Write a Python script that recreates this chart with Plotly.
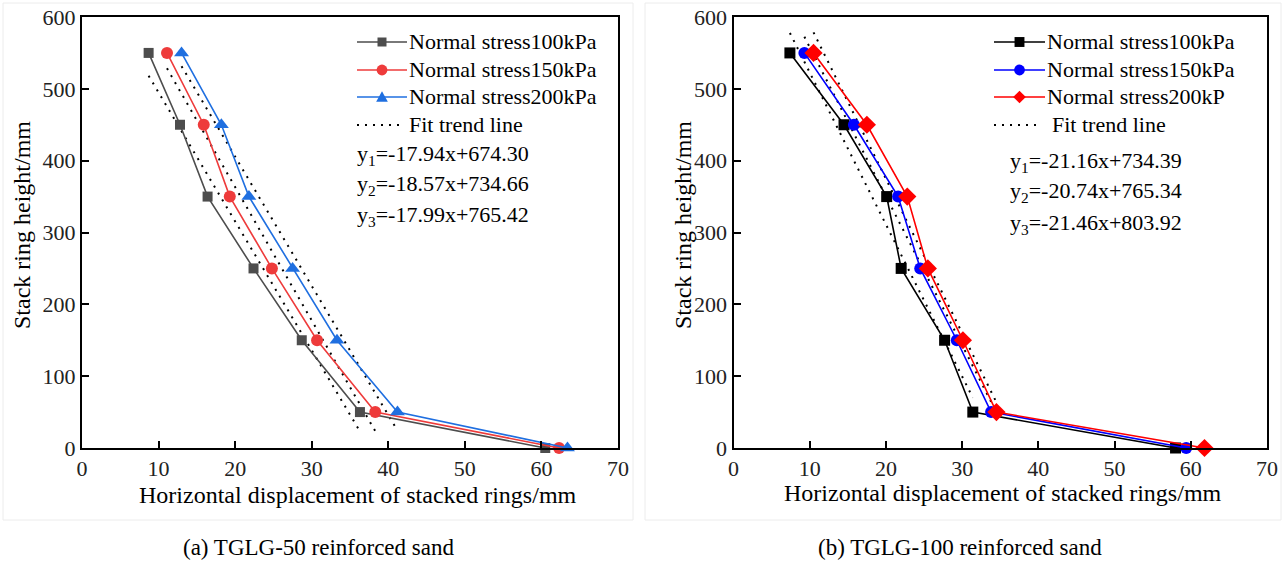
import plotly.graph_objects as go

W, H = 1284, 561

# ---------------- data ----------------
heights = [550, 450, 350, 250, 150, 50, 0]

a_100 = [8.7, 12.8, 16.4, 22.4, 28.7, 36.3, 60.5]
a_150 = [11.1, 15.9, 19.3, 24.8, 30.7, 38.3, 62.3]
a_200 = [13.0, 18.2, 21.8, 27.5, 33.3, 41.2, 63.4]

b_100 = [7.4, 14.5, 20.1, 22.0, 27.7, 31.4, 58.0]
b_150 = [9.3, 15.8, 21.6, 24.5, 29.3, 33.8, 59.4]
b_200 = [10.5, 17.5, 22.8, 25.5, 30.1, 34.5, 61.8]

a_fit_slope = [-17.94, -18.57, -17.99]
a_fit_icpt = [674.30, 734.66, 765.42]
b_fit_slope = [-21.16, -20.74, -21.46]
b_fit_icpt = [734.39, 765.34, 803.92]

names_a = ["Normal stress100kPa", "Normal stress150kPa", "Normal stress200kPa"]
names_b = ["Normal stress100kPa", "Normal stress150kPa", "Normal stress200kP"]
eq_a = ["y<sub>1</sub>=-17.94x+674.30", "y<sub>2</sub>=-18.57x+734.66", "y<sub>3</sub>=-17.99x+765.42"]
eq_b = ["y<sub>1</sub>=-21.16x+734.39", "y<sub>2</sub>=-20.74x+765.34", "y<sub>3</sub>=-21.46x+803.92"]

x_ticks = [0, 10, 20, 30, 40, 50, 60, 70]
y_ticks = [0, 100, 200, 300, 400, 500, 600]

# ---------------- style ----------------
FONT = "Liberation Serif, Times New Roman, serif"
cols_a = ["#4d4d4d", "#ee3b3b", "#1f6fe0"]
cols_b = ["#000000", "#0000ff", "#ff0000"]
sym_a = ["square", "circle", "triangle-up"]
sym_b = ["square", "circle", "diamond"]
msize_a = [10, 12, 13]
msize_b = [11, 12, 14]


def px(x):
    return x / W


def py(y):
    return 1 - y / H


fig = go.Figure()

series_a = [a_100, a_150, a_200]
series_b = [b_100, b_150, b_200]


def add_panel(series, slopes, icpts, cols, syms, sizes, names, xa, ya):
    # fit trend lines (from first point to the 50 mm level)
    for s, k, b in zip(series, slopes, icpts):
        xs = [s[0], s[5]]
        ys = [k * v + b for v in xs]
        fig.add_trace(go.Scatter(x=xs, y=ys, mode="lines", xaxis=xa, yaxis=ya,
                                 line=dict(color="black", width=2, dash="2px,6px"),
                                 showlegend=False, hoverinfo="skip"))
    for s, c, sy, ms, n in zip(series, cols, syms, sizes, names):
        fig.add_trace(go.Scatter(x=s, y=heights, mode="lines+markers", name=n,
                                 xaxis=xa, yaxis=ya, cliponaxis=False,
                                 line=dict(color=c, width=1.6),
                                 marker=dict(symbol=sy, size=ms, color=c),
                                 showlegend=False))


add_panel(series_a, a_fit_slope, a_fit_icpt, cols_a, sym_a, msize_a, names_a, "x", "y")
add_panel(series_b, b_fit_slope, b_fit_icpt, cols_b, sym_b, msize_b, names_b, "x2", "y2")

ydom = [py(448), py(17)]
ax_common = dict(showline=True, linecolor="black", linewidth=2, mirror=True,
                 ticks="inside", ticklen=7, tickwidth=2, tickcolor="black",
                 showgrid=False, zeroline=False, automargin=False,
                 tickfont=dict(family=FONT, size=22, color="#222"))

fig.update_layout(
    template="none",
    width=W, height=H, margin=dict(l=0, r=0, t=0, b=0, pad=0, autoexpand=False),
    paper_bgcolor="white", plot_bgcolor="white", showlegend=False,
    xaxis=dict(domain=[px(82), px(618)], range=[0, 70], tickvals=x_ticks, anchor="y", **ax_common),
    yaxis=dict(domain=ydom, range=[0, 600], tickvals=y_ticks, anchor="x", **ax_common),
    xaxis2=dict(domain=[px(733.5), px(1267)], range=[0, 70], tickvals=x_ticks, anchor="y2", **ax_common),
    yaxis2=dict(domain=ydom, range=[0, 600], tickvals=y_ticks, anchor="x2", **ax_common),
)

shapes = []
annots = []

# panel frames
shapes.append(dict(type="rect", xref="paper", yref="paper", x0=px(3), x1=px(633), y0=py(520), y1=py(3),
                   line=dict(color="#ececec", width=1), layer="below"))
shapes.append(dict(type="rect", xref="paper", yref="paper", x0=px(645), x1=px(1281), y0=py(520), y1=py(3),
                   line=dict(color="#ececec", width=1), layer="below"))


def marker_shape(sym, cx, cy, size, color):
    h = size / 2
    if sym == "square":
        return dict(type="rect", xref="paper", yref="paper", x0=px(cx - h), x1=px(cx + h),
                    y0=py(cy + h), y1=py(cy - h), fillcolor=color, line=dict(width=0))
    if sym == "circle":
        return dict(type="circle", xref="paper", yref="paper", x0=px(cx - h), x1=px(cx + h),
                    y0=py(cy + h), y1=py(cy - h), fillcolor=color, line=dict(width=0))
    if sym == "triangle-up":
        p = f"M {px(cx-h)},{py(cy+h*0.8)} L {px(cx+h)},{py(cy+h*0.8)} L {px(cx)},{py(cy-h)} Z"
        return dict(type="path", xref="paper", yref="paper", path=p, fillcolor=color, line=dict(width=0))
    if sym == "diamond":
        p = f"M {px(cx-h)},{py(cy)} L {px(cx)},{py(cy-h)} L {px(cx+h)},{py(cy)} L {px(cx)},{py(cy+h)} Z"
        return dict(type="path", xref="paper", yref="paper", path=p, fillcolor=color, line=dict(width=0))


def legend(x_line0, x_line1, x_text, rows, cols, syms, sizes, names, fit_x1, fit_text_x, eq_x, eq_rows, eqs):
    xm = (x_line0 + x_line1) / 2
    for r, c, sy, ms, n in zip(rows[:3], cols, syms, sizes, names):
        shapes.append(dict(type="line", xref="paper", yref="paper", x0=px(x_line0), x1=px(x_line1),
                           y0=py(r), y1=py(r), line=dict(color=c, width=1.6)))
        shapes.append(marker_shape(sy, xm, r, ms * 0.9, c))
        annots.append(dict(x=px(x_text), y=py(r), xref="paper", yref="paper", text=n, showarrow=False,
                           xanchor="left", yanchor="middle", font=dict(family=FONT, size=22, color="black")))
    r = rows[3]
    shapes.append(dict(type="line", xref="paper", yref="paper", x0=px(x_line0), x1=px(fit_x1),
                       y0=py(r), y1=py(r), line=dict(color="black", width=2, dash="2px,6px")))
    annots.append(dict(x=px(fit_text_x), y=py(r), xref="paper", yref="paper", text="Fit trend line",
                       showarrow=False, xanchor="left", yanchor="middle",
                       font=dict(family=FONT, size=22, color="black")))
    for r, e in zip(eq_rows, eqs):
        annots.append(dict(x=px(eq_x), y=py(r), xref="paper", yref="paper", text=e, showarrow=False,
                           xanchor="left", yanchor="middle", font=dict(family=FONT, size=22, color="black")))


legend(357, 407, 407, [42, 70, 97, 125], cols_a, sym_a, msize_a, names_a, 400, 407, 355, [155, 185, 216], eq_a)
legend(994, 1045, 1045, [42, 70, 97, 125], cols_b, sym_b, msize_b, names_b, 1037, 1050, 1008, [162, 192, 224], eq_b)

# axis titles
for xc, yc in [(358, 495), (1003, 493)]:
    annots.append(dict(x=px(xc), y=py(yc), xref="paper", yref="paper",
                       text="Horizontal displacement of stacked rings/mm", showarrow=False,
                       xanchor="center", yanchor="middle", font=dict(family=FONT, size=24, color="black")))
for xc in [22, 683]:
    annots.append(dict(x=px(xc), y=py(225), xref="paper", yref="paper", text="Stack ring height/mm",
                       showarrow=False, textangle=-90, xanchor="center", yanchor="middle",
                       font=dict(family=FONT, size=24, color="black")))

# captions
annots.append(dict(x=px(318), y=py(547), xref="paper", yref="paper", text="(a) TGLG-50 reinforced sand",
                   showarrow=False, xanchor="center", yanchor="middle", font=dict(family=FONT, size=23, color="black")))
annots.append(dict(x=px(960), y=py(547), xref="paper", yref="paper", text="(b) TGLG-100 reinforced sand",
                   showarrow=False, xanchor="center", yanchor="middle", font=dict(family=FONT, size=23, color="black")))

fig.update_layout(shapes=shapes, annotations=annots)
fig.write_html("out.html", config={"displayModeBar": False, "staticPlot": True},
               post_script="document.body.style.margin='0';document.body.style.overflow='hidden';")
